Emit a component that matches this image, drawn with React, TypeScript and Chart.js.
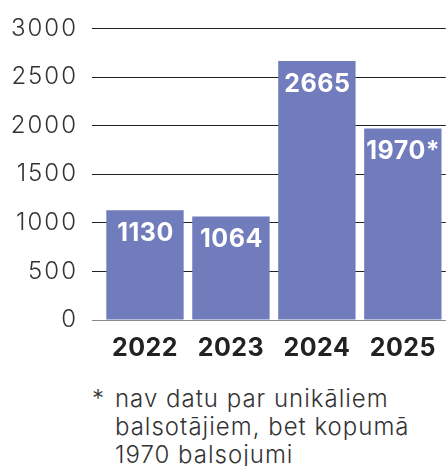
import React, { useEffect, useRef } from "react";
import { Chart, registerables } from "chart.js";

Chart.register(...registerables);

const categories = ["2022", "2023", "2024", "2025"];
const values = [1130, 1064, 2665, 1970];
const valueLabels = ["1130", "1064", "2665", "1970*"];
const yTicks = [0, 500, 1000, 1500, 2000, 2500, 3000];
const footnoteMark = "*";
const footnoteLines = ["nav datu par unikāliem", "balsotājiem, bet kopumā", "1970 balsojumi"];

const FONT = "Inter, 'DejaVu Sans', sans-serif";
const BAR = "#717CBD";

const spacingPlugin = {
  id: "spacing",
  beforeDraw(chart: any) {
    chart.ctx.letterSpacing = "2px";
  },
  beforeDatasetsDraw(chart: any) {
    chart.ctx.letterSpacing = "0.5px";
  },
  afterDraw(chart: any) {
    chart.ctx.letterSpacing = "0px";
  },
};

const valueLabelPlugin = {
  id: "valueLabels",
  afterDatasetsDraw(chart: any) {
    const { ctx } = chart;
    const meta = chart.getDatasetMeta(0);
    ctx.save();
    ctx.letterSpacing = "0.5px";
    ctx.fillStyle = "#ffffff";
    ctx.font = `700 25px ${FONT}`;
    ctx.textAlign = "center";
    ctx.textBaseline = "middle";
    meta.data.forEach((bar: any, i: number) => {
      ctx.fillText(valueLabels[i], bar.x + 0.5, bar.y + 23);
    });
    ctx.restore();
  },
};

export default function App() {
  const ref = useRef<HTMLCanvasElement>(null);
  useEffect(() => {
    if (!ref.current) return;
    const chart = new Chart(ref.current, {
      type: "bar",
      data: {
        labels: categories,
        datasets: [
          {
            data: values,
            backgroundColor: BAR,
            borderWidth: 0,
            barPercentage: 0.9,
            categoryPercentage: 1,
          },
        ],
      },
      options: {
        responsive: false,
        animation: false,
        layout: { padding: { top: 28.5, right: 0, left: 0, bottom: 0 } },
        plugins: {
          legend: { display: false },
          tooltip: { enabled: false },
        },
        scales: {
          x: {
            grid: { display: false, drawTicks: false },
            border: { display: false },
            ticks: {
              z: 1,
              color: "#222222",
              font: { family: FONT, size: 25, weight: "bold" },
              padding: 13,
              maxRotation: 0,
            },
            afterFit: (s: any) => {
              s.height = 50;
            },
          },
          y: {
            min: 0,
            max: 3000,
            afterBuildTicks: (s: any) => {
              s.ticks = yTicks.map((v) => ({ value: v }));
            },
            grid: {
              color: (c: any) => (c.tick && c.tick.value === 0 ? "#8a8a8a" : "#222222"),
              lineWidth: 1,
              drawTicks: true,
              tickLength: 10,
            },
            border: { display: false },
            ticks: {
              color: "#333333",
              font: { family: FONT, size: 24, weight: 300 },
              padding: 14,
              callback: (v: any) => String(v),
            },
            afterFit: (s: any) => {
              s.width = 102;
            },
          },
        },
      },
      plugins: [spacingPlugin, valueLabelPlugin],
    });
    return () => chart.destroy();
  }, []);

  return (
    <div style={{ position: "absolute", left: 0, top: 0, width: 448, height: 466, overflow: "hidden", background: "#fff" }}>
      <canvas ref={ref} width={448} height={370} style={{ display: "block" }} />
      <div
        style={{
          position: "absolute",
          left: 92,
          top: 385,
          display: "flex",
          fontFamily: FONT,
          fontWeight: 300,
          fontSize: 24,
          lineHeight: "28px",
          letterSpacing: "1px",
          color: "#333333",
        }}
      >
        <span style={{ width: 23, flex: "none" }}>{footnoteMark}</span>
        <div>
          {footnoteLines.map((l, i) => (
            <div key={i} style={{ whiteSpace: "nowrap" }}>{l}</div>
          ))}
        </div>
      </div>
    </div>
  );
}
